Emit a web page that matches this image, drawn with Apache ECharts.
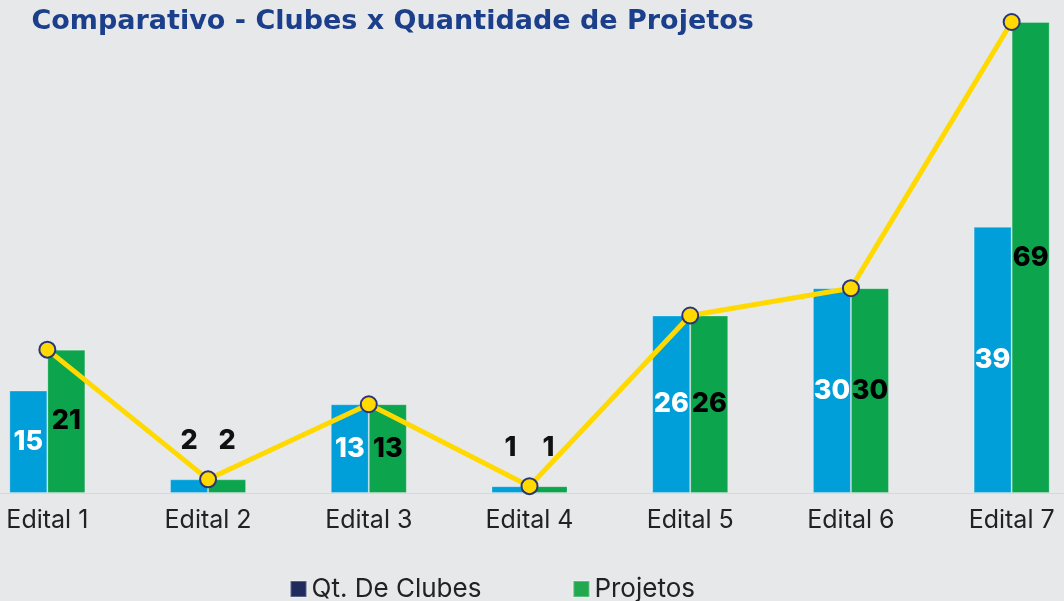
<!DOCTYPE html>
<html>
<head>
<meta charset="utf-8">
<script src="https://cdn.jsdelivr.net/npm/echarts@6/dist/echarts.min.js"></script>
<style>
  html, body { margin: 0; padding: 0; background: #e7e8ea; overflow: hidden; }
  /* gráfico mais largo que a janela: as bordas ficam cortadas como no original */
  #chart { width: 1125px; height: 601px; margin-left: -33.5px; }
</style>
</head>
<body>
<div id="chart"></div>
<script>
const categories = ['Edital 1', 'Edital 2', 'Edital 3', 'Edital 4', 'Edital 5', 'Edital 6', 'Edital 7']
const clubes = [15, 2, 13, 1, 26, 30, 39]
const projetos = [21, 2, 13, 1, 26, 30, 69]

const shift = 33.5

// valores pequenos: rótulo acima da barra
const withLabels = (values, insideColor) => values.map(v => ({
  value: v,
  label: v < 5
    ? { position: 'top', color: '#111', distance: 25 }
    : { position: 'inside', color: insideColor }
}))

const chart = echarts.init(document.getElementById('chart'))

chart.setOption({
  backgroundColor: '#e7e8ea',
  title: {
    text: 'Comparativo - Clubes x Quantidade de Projetos',
    left: 26 + shift,
    top: 3,
    textStyle: {
      fontFamily: 'DejaVu Sans',
      fontWeight: 'bold',
      fontSize: 27,
      color: '#1b3f8b'
    }
  },
  legend: {
    left: 284 + shift,
    top: 571,
    itemWidth: 16,
    itemHeight: 16,
    itemGap: 91,
    icon: 'rect',
    textStyle: { fontFamily: 'Inter', fontSize: 26, color: '#222' },
    data: [
      { name: 'Qt. De Clubes', itemStyle: { color: '#1f2b5c' } },
      { name: 'Projetos', itemStyle: { color: '#22a84e' } }
    ]
  },
  grid: {
    left: 0,
    right: 0,
    top: 22,
    bottom: 108,
    containLabel: false
  },
  xAxis: {
    type: 'category',
    data: categories,
    axisTick: { show: false },
    axisLine: { lineStyle: { color: '#d7d8da', width: 1 } },
    axisLabel: {
      margin: 15,
      fontFamily: 'Inter',
      fontSize: 25,
      color: '#222'
    }
  },
  yAxis: {
    type: 'value',
    min: 0,
    max: 69,
    show: false
  },
  series: [
    {
      name: 'Qt. De Clubes',
      type: 'bar',
      barWidth: 38,
      barGap: '0%',
      data: withLabels(clubes, '#fff'),
      itemStyle: { color: '#009fd9', borderColor: 'rgba(255,255,255,0.25)', borderWidth: 1 },
      label: {
        show: true,
        fontFamily: 'Inter',
        fontWeight: 800,
        fontSize: 27
      }
    },
    {
      name: 'Projetos',
      type: 'bar',
      barWidth: 38,
      data: withLabels(projetos, '#000'),
      itemStyle: { color: '#0ca44c', borderColor: 'rgba(255,255,255,0.25)', borderWidth: 1 },
      label: {
        show: true,
        fontFamily: 'Inter',
        fontWeight: 800,
        fontSize: 27
      }
    },
    {
      name: 'Linha',
      type: 'line',
      data: projetos,
      symbol: 'circle',
      symbolSize: 16,
      lineStyle: { color: '#ffd900', width: 5 },
      itemStyle: { color: '#ffd900', borderColor: '#2a3577', borderWidth: 2 },
      z: 5
    }
  ]
})
</script>
</body>
</html>
